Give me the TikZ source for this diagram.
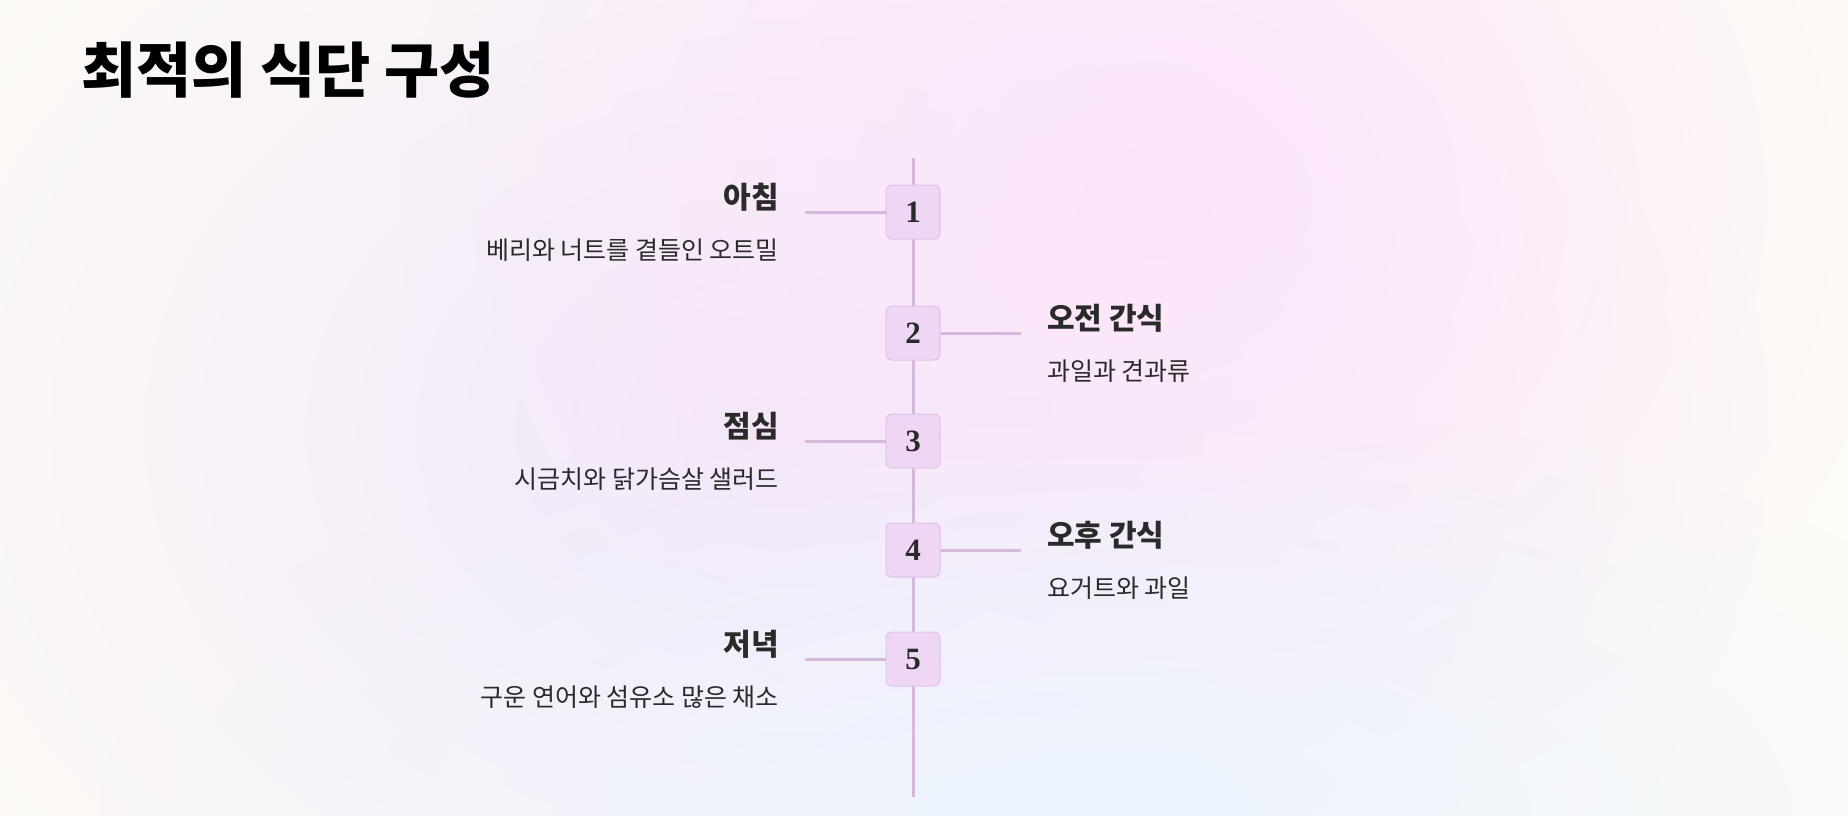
\documentclass[tikz,border=0pt]{standalone}
\usepackage{fontspec}
\setmainfont{Noto Sans CJK KR}
\newfontfamily\numfont{Liberation Serif}
\usetikzlibrary{fadings}
\definecolor{cream}{HTML}{FDFBF6}
\definecolor{lav}{HTML}{F2E8FB}
\definecolor{pinkbg}{HTML}{FDE5FB}
\definecolor{bluebg}{HTML}{EDF5FE}
\definecolor{spinecol}{HTML}{D7B8DD}
\definecolor{boxfill}{HTML}{EFD6F5}
\definecolor{boxline}{HTML}{DEC3E6}
\definecolor{txt}{HTML}{2A2A2A}
\tikzfading[name=blobfade, inner color=transparent!0, outer color=transparent!100]
\tikzset{
  stepbox/.style={draw=boxline, line width=1pt, fill=boxfill, rounded corners=6pt,
    minimum width=54pt, minimum height=54pt, inner sep=0pt,
    font=\numfont\bfseries\fontsize{31}{31}\selectfont, text=txt},
  headl/.style={anchor=east, inner sep=0pt, font=\bfseries\fontsize{30}{30}\selectfont, text=txt},
  headr/.style={anchor=west, inner sep=0pt, font=\bfseries\fontsize{30}{30}\selectfont, text=txt},
  subl/.style={anchor=east, inner sep=0pt, font=\fontsize{25}{25}\selectfont, text=txt},
  subr/.style={anchor=west, inner sep=0pt, font=\fontsize{25}{25}\selectfont, text=txt},
  link/.style={draw=spinecol, line width=3pt},
  spine/.style={draw=spinecol, line width=3pt},
  blob/.style={path fading=blobfade}
}
\begin{document}
\begin{tikzpicture}[x=1pt,y=-1pt]
\useasboundingbox (0,0) rectangle (1848,816);
\fill[cream] (0,0) rectangle (1848,816);
\fill[lav, blob] (780,430) ellipse [x radius=1000, y radius=750];
\fill[pinkbg, blob] (1150,200) ellipse [x radius=750, y radius=650];
\fill[bluebg, blob] (1100,816) ellipse [x radius=1000, y radius=420];

\node[anchor=west, inner sep=0pt, font=\bfseries\fontsize{60}{60}\selectfont, text=black] (title) at (81,70) {최적의 식단 구성};

\coordinate (top) at (913,158);
\coordinate (bot) at (913,797);
\draw[spine] (top) -- (bot);

\node[stepbox] (s1) at (913,212) {1};
\node[stepbox] (s2) at (913,333) {2};
\node[stepbox] (s3) at (913,441) {3};
\node[stepbox] (s4) at (913,550) {4};
\node[stepbox] (s5) at (913,659) {5};

\coordinate (c1) at (805,212);
\coordinate (c2) at (1021,333);
\coordinate (c3) at (805,441);
\coordinate (c4) at (1021,550);
\coordinate (c5) at (805,659);
\draw[link] (c1) -- (s1.west);
\draw[link] (s2.east) -- (c2);
\draw[link] (c3) -- (s3.west);
\draw[link] (s4.east) -- (c4);
\draw[link] (c5) -- (s5.west);

\node[headl] (h1) at (779,197) {아침};
\node[subl] (d1) at (779,250) {베리와 너트를 곁들인 오트밀};
\node[headr] (h2) at (1047,318) {오전 간식};
\node[subr] (d2) at (1047,371) {과일과 견과류};
\node[headl] (h3) at (779,426) {점심};
\node[subl] (d3) at (779,479) {시금치와 닭가슴살 샐러드};
\node[headr] (h4) at (1047,535) {오후 간식};
\node[subr] (d4) at (1047,588) {요거트와 과일};
\node[headl] (h5) at (779,644) {저녁};
\node[subl] (d5) at (779,697) {구운 연어와 섬유소 많은 채소};
\end{tikzpicture}
\end{document}
